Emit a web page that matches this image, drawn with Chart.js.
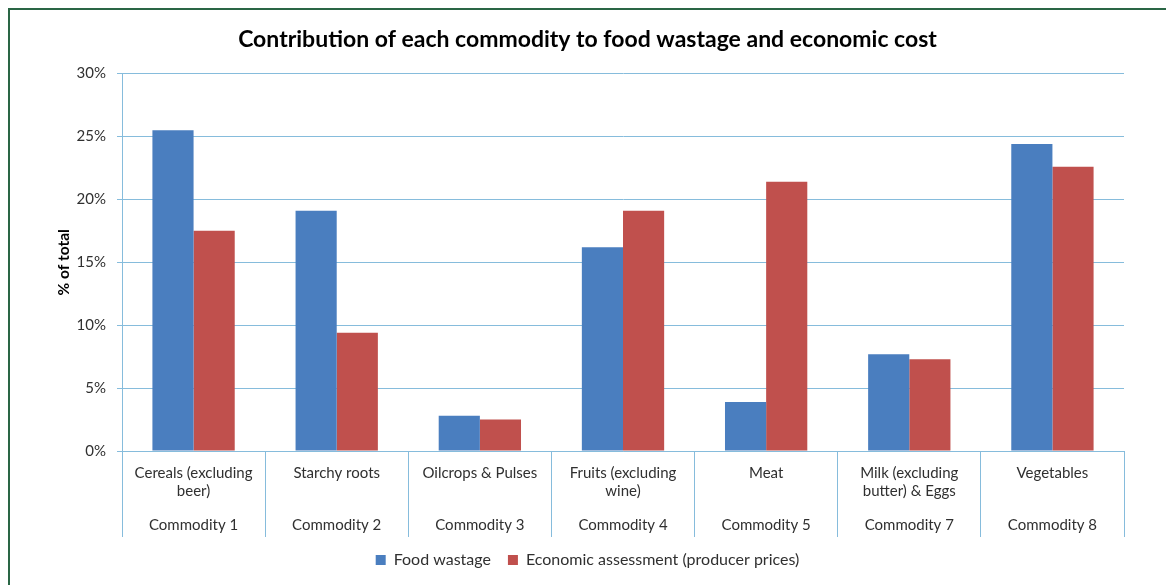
<!DOCTYPE html>
<html>
<head>
<meta charset="utf-8">
<script src="https://cdn.jsdelivr.net/npm/chart.js@4.4.0/dist/chart.umd.min.js"></script>
<style>
  html, body { margin: 0; padding: 0; background: #fff; }
  #wrap { position: relative; width: 1166px; height: 585px; overflow: hidden; }
  #frame { position: absolute; left: 8px; top: 8px; width: 1200px; height: 600px; border: 2px solid #2a6645; box-sizing: border-box; }
  canvas { position: absolute; left: 0; top: 0; }
</style>
</head>
<body>
<div id="wrap">
  <div id="frame"></div>
  <canvas id="myChart" width="1166" height="585"></canvas>
</div>
<script>
// product names (wrapped lines) and their commodity group
const products = [
    ["Cereals (excluding", "beer)"],
    ["Starchy roots"],
    ["Oilcrops & Pulses"],
    ["Fruits (excluding", "wine)"],
    ["Meat"],
    ["Milk (excluding", "butter) & Eggs"],
    ["Vegetables"]
];
const commodities = ["Commodity 1", "Commodity 2", "Commodity 3", "Commodity 4", "Commodity 5", "Commodity 7", "Commodity 8"];

// % of total
const foodWastage = [25.5, 19.1, 2.8, 16.2, 3.9, 7.7, 24.4];
const economicCost = [17.5, 9.4, 2.5, 19.1, 21.4, 7.3, 22.6];

const yTickLabels = ["0%", "5%", "10%", "15%", "20%", "25%", "30%"];

const gridBlue = "#86bcdc";

// two-row labels: product name on top, commodity below
const labels = products.map((lines, i) => {
    const rows = lines.slice();
    while (rows.length < 3) rows.push("");
    rows.push(commodities[i]);
    return rows;
});

Chart.defaults.font.family = "Lato, 'Open Sans', sans-serif";
Chart.defaults.color = "#303030";

const ctx = document.getElementById("myChart").getContext("2d");

new Chart(ctx, {
    type: "bar",
    data: {
        labels: labels,
        datasets: [
            {
                label: "Food wastage",
                data: foodWastage,
                backgroundColor: "#4a7ebf",
                barPercentage: 1,
                categoryPercentage: 0.575
            },
            {
                label: "Economic assessment (producer prices)",
                data: economicCost,
                backgroundColor: "#c0504d",
                barPercentage: 1,
                categoryPercentage: 0.575
            }
        ]
    },
    options: {
        responsive: false,
        animation: false,
        devicePixelRatio: 1,
        layout: { padding: { left: 51, right: 42, top: 0, bottom: 7 } },
        plugins: {
            title: {
                display: true,
                text: "Contribution of each commodity to food wastage and economic cost",
                color: "#000",
                font: { size: 23, weight: "bold" },
                padding: { top: 26, bottom: 20 }
            },
            legend: {
                position: "bottom",
                labels: {
                    boxWidth: 10,
                    boxHeight: 10,
                    padding: 17,
                    color: "#303030",
                    font: { size: 16 }
                }
            },
            tooltip: { enabled: false }
        },
        scales: {
            x: {
                afterFit: (scale) => { scale.height = 84; },
                grid: {
                    offset: true,
                    drawOnChartArea: false,
                    drawTicks: true,
                    tickLength: 86,
                    color: gridBlue
                },
                border: { color: gridBlue },
                ticks: {
                    padding: -72,
                    maxRotation: 0,
                    autoSkip: false,
                    font: { size: 15, lineHeight: 1.15 }
                }
            },
            y: {
                min: 0,
                max: 30,
                afterFit: (scale) => { scale.width = 71; },
                grid: { color: gridBlue, tickLength: 5 },
                border: { color: gridBlue },
                ticks: {
                    stepSize: 5,
                    padding: 11,
                    font: { size: 15 },
                    callback: (v) => yTickLabels[Math.round(v / 5)]
                },
                title: {
                    display: true,
                    text: "% of total",
                    color: "#000",
                    font: { size: 15.5, weight: "bold" }
                }
            }
        }
    }
});
</script>
</body>
</html>
